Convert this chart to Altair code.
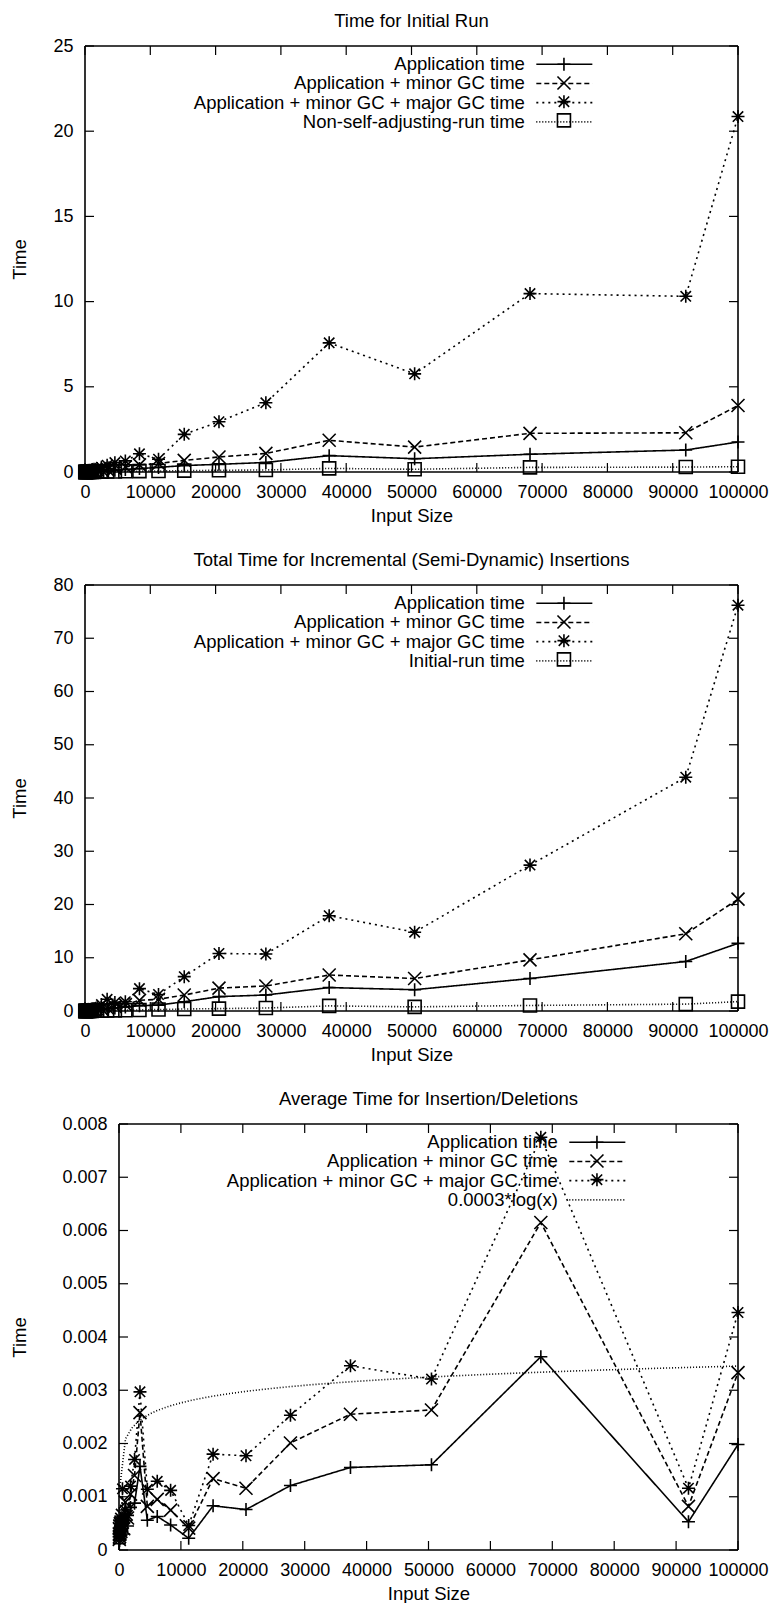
import altair as alt
import pandas as pd

FONT = "Liberation Sans"
FS = 18.5
TFS = 18
LW = 1.6

# ---------------- data ----------------
sizes = [38, 51, 69, 93, 125, 169, 228, 307, 415, 560, 756, 1020, 1378, 1860,
         2511, 3389, 4576, 6177, 8339, 11258, 15198, 20517, 27698, 37393,
         50480, 68148, 92000, 100000]

# Panel 1: Time for Initial Run
init_app = [0.00, 0.00, 0.00, 0.00, 0.00, 0.01, 0.01, 0.01, 0.01, 0.02, 0.02, 0.03, 0.04, 0.05,
            0.06, 0.08, 0.11, 0.15, 0.20, 0.27, 0.38, 0.45, 0.56, 0.96, 0.78, 1.04, 1.29, 1.76]
init_minor = [0.00, 0.00, 0.00, 0.01, 0.01, 0.01, 0.02, 0.02, 0.03, 0.04, 0.05, 0.06, 0.08, 0.10,
              0.13, 0.17, 0.23, 0.30, 0.42, 0.50, 0.68, 0.88, 1.09, 1.86, 1.46, 2.27, 2.30, 3.90]
init_major = [0.00, 0.01, 0.01, 0.01, 0.02, 0.02, 0.03, 0.04, 0.05, 0.07, 0.09, 0.12, 0.16, 0.21,
              0.28, 0.40, 0.55, 0.65, 1.07, 0.75, 2.21, 2.95, 4.06, 7.58, 5.76, 10.47, 10.31, 20.86]
init_nonsa = [0.00, 0.00, 0.00, 0.00, 0.00, 0.00, 0.00, 0.00, 0.01, 0.01, 0.01, 0.01, 0.01, 0.02,
              0.02, 0.03, 0.03, 0.04, 0.05, 0.06, 0.08, 0.10, 0.12, 0.21, 0.16, 0.27, 0.29, 0.31]

# Panel 2: Total Time for Incremental (Semi-Dynamic) Insertions
incr_app = [0.00, 0.00, 0.01, 0.01, 0.01, 0.02, 0.03, 0.04, 0.05, 0.07, 0.09, 0.12, 0.16, 0.21,
            0.30, 0.40, 0.55, 0.75, 1.00, 1.10, 1.75, 2.70, 3.00, 4.40, 4.00, 6.10, 9.30, 12.70]
incr_minor = [0.00, 0.01, 0.01, 0.02, 0.02, 0.03, 0.04, 0.06, 0.08, 0.10, 0.14, 0.18, 0.25, 0.33,
              0.45, 0.60, 0.85, 1.20, 2.00, 2.20, 3.00, 4.30, 4.70, 6.76, 6.10, 9.60, 14.50, 21.00]
incr_major = [0.01, 0.01, 0.02, 0.03, 0.04, 0.05, 0.07, 0.10, 0.13, 0.18, 0.24, 0.32, 0.45, 0.60,
              1.20, 2.20, 1.60, 1.75, 4.20, 3.10, 6.45, 10.80, 10.70, 17.90, 14.80, 27.40, 43.90, 76.20]
incr_initial = [0.00, 0.00, 0.00, 0.00, 0.00, 0.01, 0.01, 0.01, 0.01, 0.02, 0.02, 0.03, 0.04, 0.05,
                0.06, 0.08, 0.11, 0.15, 0.20, 0.27, 0.38, 0.45, 0.56, 0.96, 0.78, 1.04, 1.29, 1.76]

# Panel 3: Average Time for Insertion/Deletions
avg_app = [0.00025, 0.00012, 0.00030, 0.00018, 0.00035, 0.00022, 0.00040, 0.00028, 0.00035,
           0.00050, 0.00030, 0.00055, 0.00045, 0.00080, 0.00088, 0.00157, 0.00056, 0.00063,
           0.00047, 0.00022, 0.00083, 0.00076, 0.00121, 0.00155, 0.00160, 0.00363, 0.00053, 0.00198]
avg_minor = [0.00030, 0.00020, 0.00040, 0.00025, 0.00045, 0.00030, 0.00050, 0.00035, 0.00045,
             0.00065, 0.00040, 0.00090, 0.00060, 0.00105, 0.00140, 0.00258, 0.00082, 0.00095,
             0.00075, 0.00041, 0.00134, 0.00116, 0.00201, 0.00255, 0.00263, 0.00615, 0.00082, 0.00333]
avg_major = [0.00035, 0.00025, 0.00050, 0.00030, 0.00055, 0.00035, 0.00060, 0.00040, 0.00055,
             0.00115, 0.00050, 0.00075, 0.00065, 0.00120, 0.00170, 0.00297, 0.00114, 0.00129,
             0.00112, 0.00046, 0.00180, 0.00177, 0.00253, 0.00346, 0.00321, 0.00775, 0.00116, 0.00446]

x_ticks = [0, 10000, 20000, 30000, 40000, 50000, 60000, 70000, 80000, 90000, 100000]
y1_ticks = [0, 5, 10, 15, 20, 25]
y2_ticks = [0, 10, 20, 30, 40, 50, 60, 70, 80]
y3_ticks = [0, 0.001, 0.002, 0.003, 0.004, 0.005, 0.006, 0.007, 0.008]

N_APP = "Application time"
N_MINOR = "Application + minor GC time"
N_MAJOR = "Application + minor GC + major GC time"
N_NONSA = "Non-self-adjusting-run time"
N_INIT = "Initial-run time"
N_LOG = "0.0003*log(x)"

# ---------------- styles ----------------
PLUS = "M-1,0L1,0M0,-1L0,1"
CROSS = "M-1,-1L1,1M-1,1L1,-1"
STAR = "M-1,0L1,0M0,-1L0,1M-0.8,-0.8L0.8,0.8M-0.8,0.8L0.8,-0.8"
SQUARE = "M-1,-1L1,-1L1,1L-1,1Z"
LINE_SYM = "M3.18,0L11.8,0"      # key sample line, drawn to the right of its anchor
DASHES = [[1, 0], [5, 3], [2, 4], [1, 2]]
MSIZE = 169
SYM_HALF = 7.3                   # half of the legend symbol column

W, H = 653, 426
LEG_Y = 9
ROW_PITCH = 18.7
KEY_GAP = 41.0                   # label right edge -> sample centre


def build_panel(title, series, curve_name, y_domain, y_ticks, y_fmt, x0, title_dx,
                label_right, ytitle_x):
    recs = []
    for name, vals, shp in series:
        for xv, yv in zip(sizes, vals):
            recs.append({"x": xv, "y": yv, "series": name})
    df = pd.DataFrame(recs)

    line_domain = [s[0] for s in series] + ([curve_name] if curve_name else [])
    dash_scale = alt.Scale(domain=line_domain, range=DASHES[:len(line_domain)])
    xs = alt.Scale(domain=[0, 100000], range=[x0, W], nice=False, zero=False)
    ys = alt.Scale(domain=y_domain, nice=False, zero=False)

    x_axis = alt.Axis(values=x_ticks, format="d", grid=False, domain=False, ticks=False,
                      tickSize=0, labelPadding=11, labelFont=FONT, labelFontSize=TFS,
                      labelColor="black", labelFlush=False, labelOverlap=False,
                      title="Input Size", titleFont=FONT, titleFontSize=FS,
                      titleFontWeight="normal", titleColor="black",
                      titleX=(x0 + W) / 2, titleY=43, titleBaseline="middle",
                      titleAlign="center")
    y_axis = alt.Axis(values=y_ticks, format=y_fmt, grid=False, domain=False, ticks=False,
                      tickSize=0, labelPadding=12, labelFont=FONT, labelFontSize=TFS,
                      labelColor="black", labelFlush=False, labelOverlap=False,
                      offset=-x0, title="Time", titleFont=FONT, titleFontSize=FS,
                      titleFontWeight="normal", titleColor="black", titleX=ytitle_x,
                      titleY=H / 2, titleAngle=270, titleBaseline="middle",
                      titleAlign="center")

    common = dict(orient="none", title=None, labelFont=FONT, labelFontSize=FS,
                  labelColor="black", labelLimit=0, rowPadding=0.2, padding=0,
                  symbolSize=MSIZE, symbolStrokeWidth=LW, symbolStrokeColor="black",
                  symbolFillColor="transparent", labelOffset=0, symbolOffset=0)
    key_origin = label_right - 2 * SYM_HALF
    sample_centre = label_right + KEY_GAP

    X = lambda f: alt.X(f, scale=xs, axis=x_axis)
    Y = lambda f: alt.Y(f, scale=ys, axis=y_axis)

    frame_df = pd.DataFrame({"x": [0], "x2": [100000], "y": [y_domain[0]], "y2": [y_domain[1]]})
    fr = alt.Chart(frame_df).mark_rule(color="black", strokeWidth=LW)
    layers = [
        fr.encode(x=X("x:Q"), y=Y("y:Q"), y2="y2:Q"),
        fr.encode(x=X("x2:Q"), y=Y("y:Q"), y2="y2:Q"),
        fr.encode(x=X("x:Q"), x2="x2:Q", y=Y("y:Q")),
        fr.encode(x=X("x:Q"), x2="x2:Q", y=Y("y2:Q")),
    ]
    xt = alt.Chart(pd.DataFrame({"x": x_ticks})).mark_rule(color="black", strokeWidth=1.2)
    yt = alt.Chart(pd.DataFrame({"y": y_ticks})).mark_rule(color="black", strokeWidth=1.2)
    layers += [
        xt.encode(x=X("x:Q"), y=alt.value(H), y2=alt.value(H - 9)),
        xt.encode(x=X("x:Q"), y=alt.value(0), y2=alt.value(9)),
        yt.encode(y=Y("y:Q"), x=alt.value(x0), x2=alt.value(x0 + 9)),
        yt.encode(y=Y("y:Q"), x=alt.value(W - 9), x2=alt.value(W)),
    ]

    dash_legend = alt.Legend(symbolType=LINE_SYM, legendX=key_origin, legendY=LEG_Y,
                             labelAlign="right", **common)
    lines = alt.Chart(df).mark_line(color="black", strokeWidth=LW).encode(
        x=X("x:Q"), y=Y("y:Q"),
        strokeDash=alt.StrokeDash("series:N", scale=dash_scale, legend=dash_legend),
    )
    layers.append(lines)

    if curve_name:
        curve = (
            alt.Chart(alt.sequence(0, 100, as_="k"))
            .transform_calculate(
                x=f"{sizes[0]} + datum.k * {(100000 - sizes[0]) / 99}",
                y="0.0003 * log(datum.x)",
                series=f"'{curve_name}'",
            )
            .mark_line(color="black", strokeWidth=LW)
            .encode(x=X("x:Q"), y=Y("y:Q"),
                    strokeDash=alt.StrokeDash("series:N", scale=dash_scale, legend=dash_legend))
        )
        layers.append(curve)

    # one point layer per series, each with its own one-entry key symbol
    for i, (name, vals, shp) in enumerate(series):
        mname = name + " marker"
        sdf = df[df["series"] == name].assign(marker=mname)
        mlegend = alt.Legend(legendX=sample_centre - SYM_HALF, legendY=LEG_Y + i * ROW_PITCH,
                             labelExpr="''", **common)
        pts = alt.Chart(sdf).mark_point(filled=False, color="black", strokeWidth=LW,
                                        size=MSIZE, opacity=1).encode(
            x=X("x:Q"), y=Y("y:Q"),
            shape=alt.Shape("marker:N", scale=alt.Scale(domain=[mname], range=[shp]),
                            legend=mlegend),
        )
        layers.append(pts)

    return alt.layer(*layers).resolve_scale(shape="independent").resolve_legend(
        shape="independent").properties(
        width=W, height=H,
        title=alt.TitleParams(text=title, font=FONT, fontSize=FS, fontWeight="normal",
                              color="black", anchor="middle", frame="group",
                              baseline="alphabetic", offset=19.5, dx=title_dx, dy=27.5),
    )


p1 = build_panel("Time for Initial Run",
                 [(N_APP, init_app, PLUS), (N_MINOR, init_minor, CROSS),
                  (N_MAJOR, init_major, STAR), (N_NONSA, init_nonsa, SQUARE)],
                 None, [0, 25], y1_ticks, "d", 0, 0, 436, -66)
p2 = build_panel("Total Time for Incremental (Semi-Dynamic) Insertions",
                 [(N_APP, incr_app, PLUS), (N_MINOR, incr_minor, CROSS),
                  (N_MAJOR, incr_major, STAR), (N_INIT, incr_initial, SQUARE)],
                 None, [0, 80], y2_ticks, "d", 0, 0, 436, -66)
p3 = build_panel("Average Time for Insertion/Deletions",
                 [(N_APP, avg_app, PLUS), (N_MINOR, avg_minor, CROSS),
                  (N_MAJOR, avg_major, STAR)],
                 N_LOG, [0, 0.008], y3_ticks, "~g", 34, 17, 469, -100)

chart = (
    alt.vconcat(p1, p2, p3, spacing=25)
    .resolve_scale(x="independent", y="independent", strokeDash="independent",
                   shape="independent")
    .resolve_legend(strokeDash="independent", shape="independent")
    .properties(padding={"left": 9, "top": 11, "right": 0, "bottom": 0})
    .configure_view(stroke="transparent")
)

chart.save("out.html", embed_options={"renderer": "svg", "actions": False})
